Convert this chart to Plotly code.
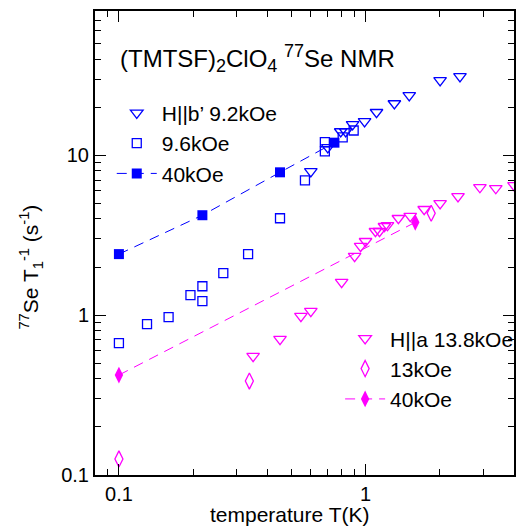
import plotly.graph_objects as go

# ---- data (temperature in K, 1/T1 in s^-1) ----
# H || b'
b_tri_T = [0.600, 0.703, 0.793, 0.831, 0.886, 0.991, 1.108, 1.309, 1.504, 2.006, 2.415]
b_tri_R = [7.94, 11.2, 14.1, 14.1, 15.6, 16.3, 18.6, 21.1, 23.7, 29.4, 31.2]
b_sq_T = [0.100, 0.130, 0.159, 0.195, 0.218, 0.218, 0.265, 0.334, 0.450, 0.568, 0.684, 0.684, 0.808, 0.895]
b_sq_R = [0.668, 0.879, 0.972, 1.334, 1.517, 1.223, 1.83, 2.41, 4.04, 6.98, 10.6, 12.1, 12.96, 14.3]
b_40_T = [0.100, 0.218, 0.450, 0.748]
b_40_R = [2.41, 4.22, 7.83, 12.0]
# H || a
m_tri_T = [0.350, 0.450, 0.547, 0.600, 0.800, 0.903, 0.955, 1.000, 1.097, 1.139, 1.193, 1.227,
           1.359, 1.518, 1.729, 2.006, 2.371, 2.909, 3.374, 4.0]
m_tri_R = [0.554, 0.708, 0.986, 1.06, 1.61, 2.34, 2.70, 2.90, 3.35, 3.35, 3.60, 3.65,
           4.04, 4.16, 4.60, 5.01, 5.54, 6.31, 6.22, 6.49]
m_dia_T = [0.100, 0.338, 1.846]
m_dia_R = [0.126, 0.387, 4.34]
m_40_T = [0.100, 1.591]
m_40_R = [0.422, 3.81]

x_major = [0.1, 1]
x_minor = [0.09, 0.2, 0.3, 0.4, 0.5, 0.6, 0.7, 0.8, 0.9, 2, 3, 4]
y_major = [0.1, 1, 10]
y_minor = [0.2, 0.3, 0.4, 0.5, 0.6, 0.7, 0.8, 0.9, 2, 3, 4, 5, 6, 7, 8, 9,
           20, 30, 40, 50, 60, 70, 80]

BLUE = "#0000ff"
MAG = "#ff00ff"
FONT = "Liberation Sans, Arial, sans-serif"

fig = go.Figure()
fig.add_trace(go.Scatter(x=b_tri_T, y=b_tri_R, mode="markers", name="H||b\u2019 9.2kOe",
                         legend="legend",
                         marker=dict(symbol="triangle-down-open", size=11, color=BLUE,
                                     line=dict(width=1.3, color=BLUE))))
fig.add_trace(go.Scatter(x=b_sq_T, y=b_sq_R, mode="markers", name="9.6kOe", legend="legend",
                         marker=dict(symbol="square-open", size=9, color=BLUE,
                                     line=dict(width=1.3, color=BLUE))))
fig.add_trace(go.Scatter(x=b_40_T, y=b_40_R, mode="lines+markers", name="40kOe", legend="legend",
                         line=dict(color=BLUE, width=1, dash="10px,7px"),
                         marker=dict(symbol="square", size=10, color=BLUE)))
fig.add_trace(go.Scatter(x=m_tri_T, y=m_tri_R, mode="markers", name="H||a 13.8kOe",
                         legend="legend2",
                         marker=dict(symbol="triangle-down-open", size=11, color=MAG,
                                     line=dict(width=1.3, color=MAG))))
fig.add_trace(go.Scatter(x=m_dia_T, y=m_dia_R, mode="markers", name="13kOe", legend="legend2",
                         marker=dict(symbol="diamond-tall-open", size=11.5, color=MAG,
                                     line=dict(width=1.3, color=MAG))))
fig.add_trace(go.Scatter(x=m_40_T, y=m_40_R, mode="lines+markers", name="40kOe", legend="legend2",
                         line=dict(color=MAG, width=1, dash="10px,7px"),
                         marker=dict(symbol="diamond-tall", size=12, color=MAG)))

axis_common = dict(type="log", showline=True, linewidth=2, linecolor="black", mirror="ticks",
                   ticks="inside", ticklen=11, tickwidth=1, tickcolor="black",
                   showgrid=False, zeroline=False,
                   tickfont=dict(family=FONT, size=20, color="black"))

fig.update_xaxes(range=[-1.097, 0.602], tickmode="array", tickvals=x_major,
                 ticktext=["0.1", "1"],
                 minor=dict(tickmode="array", tickvals=x_minor, ticks="inside", ticklen=6,
                            tickcolor="black", showgrid=False),
                 **axis_common)
fig.update_yaxes(range=[-1.0, 1.903], tickmode="array", tickvals=y_major,
                 ticktext=["0.1", "1", "10"],
                 minor=dict(tickmode="array", tickvals=y_minor, ticks="inside", ticklen=6,
                            tickcolor="black", showgrid=False),
                 **axis_common)

leg_common = dict(bgcolor="rgba(0,0,0,0)", borderwidth=0,
                  font=dict(family=FONT, size=21, color="black"),
                  xanchor="left", yanchor="top", tracegroupgap=0, itemsizing="trace",
                  itemwidth=40)

fig.update_layout(
    width=520, height=527,
    margin=dict(l=95, r=2, t=11, b=52),
    paper_bgcolor="white", plot_bgcolor="white",
    font=dict(family=FONT, color="black"),
    legend=dict(x=0.040, y=0.824, **leg_common),
    legend2=dict(x=0.585, y=0.338, **leg_common),
    annotations=[
        dict(text="(TMTSF)<sub><span style='font-size:18px'>2</span></sub>ClO"
                  "<sub><span style='font-size:18px'>4</span></sub> "
                  "<sup><span style='font-size:18px'>77</span></sup>Se NMR",
             xref="paper", yref="paper", x=0.054, y=0.898, xanchor="left", yanchor="middle",
             showarrow=False, font=dict(family=FONT, size=24, color="black")),
        dict(text="temperature T(K)", xref="paper", yref="paper", x=0.466, y=-0.086,
             xanchor="center", yanchor="middle", showarrow=False,
             font=dict(family=FONT, size=21, color="black")),
        dict(text="<sup>77</sup>Se T<sub>1</sub><sup>-1</sup> (s<sup>-1</sup>)",
             xref="paper", yref="paper", x=-0.154, y=0.448, xanchor="center", yanchor="middle",
             textangle=-90, showarrow=False,
             font=dict(family=FONT, size=21, color="black")),
    ],
)

fig.write_html("out.html",
               config={"displayModeBar": False},
               post_script="document.body.style.margin='0px';document.body.style.overflow='hidden';")
